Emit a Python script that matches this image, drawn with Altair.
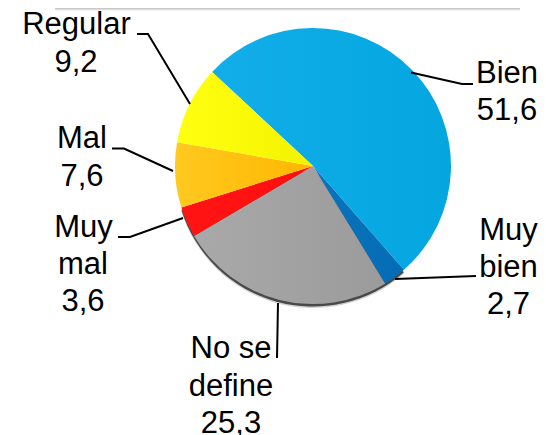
import altair as alt
import pandas as pd
import math

categories = ["Bien", "Muy bien", "No se define", "Muy mal", "Mal", "Regular"]
values = [51.6, 2.7, 25.3, 3.6, 7.6, 9.2]
colors = [
    ("#12AEEA", "#04A6E0"),
    ("#0874BE", "#056CB4"),
    ("#A9A9A9", "#9B9B9B"),
    ("#FF1414", "#FF0F0F"),
    ("#FFC91F", "#FFB700"),
    ("#FFFF10", "#F3F300"),
]
label_lines = [
    ("Regular", 76.5, 34), ("9,2", 76, 72),
    ("Bien", 507, 83), ("51,6", 507, 120),
    ("Mal", 82, 148), ("7,6", 82, 186),
    ("Muy", 83.5, 237), ("mal", 83, 274), ("3,6", 83, 311),
    ("Muy", 508.5, 240), ("bien", 508.5, 277), ("2,7", 508.5, 314),
    ("No se", 231, 358), ("define", 231, 396), ("25,3", 231, 433),
]
leaders = {
    "Regular": [(137, 34), (148, 34), (190, 104)],
    "Bien": [(411, 72.5), (462, 84), (473, 84)],
    "Mal": [(112, 148.5), (124, 148.5), (173, 171)],
    "Muy mal": [(118, 237), (130, 237), (183, 218)],
    "Muy bien": [(395, 279), (476, 276)],
    "No se define": [(278, 303), (277, 358)],
}
band_x = (55, 520)
band_y = (8, 11)

W, H = 530, 427
CX, CY, R = 305, 158, 138
START = math.radians(-47)

theta_scale = alt.Scale(domain=[0, 100], range=[START, START + 2 * math.pi])
px_x = alt.Scale(domain=[8, 538], range=[0, W])
px_y = alt.Scale(domain=[8, 435], range=[0, H])

starts, ends, total = [], [], 0.0
for v in values:
    starts.append(total)
    total += v
    ends.append(total)


def wedge(start, end, fill, cy=CY, r=R, opacity=1.0):
    d = pd.DataFrame({"start": [start], "end": [end]})
    return alt.Chart(d).mark_arc(fill=fill, outerRadius=r, opacity=opacity).encode(
        theta=alt.Theta("start:Q", scale=theta_scale),
        theta2="end:Q",
        x=alt.value(CX),
        y=alt.value(cy),
    )


def linear(c1, c2, x2=1, y2=0):
    return alt.LinearGradient(
        gradient="linear", x1=0, x2=x2, y1=0, y2=y2,
        stops=[alt.GradientStop(color=c1, offset=0), alt.GradientStop(color=c2, offset=1)],
    )


layers = []
band = pd.DataFrame({"x": [band_x[0]], "x2": [band_x[1]], "y": [band_y[0]], "y2": [band_y[1]]})
layers.append(
    alt.Chart(band).mark_rect(fill=linear("#BDBDBD", "#FFFFFF", 0, 1)).encode(
        x=alt.X("x:Q", scale=px_x, axis=None), x2="x2:Q",
        y=alt.Y("y:Q", scale=px_y, axis=None), y2="y2:Q",
    )
)

# soft shadow under the lower rim
shadow_start, shadow_end = starts[1], ends[3]
layers.append(wedge(shadow_start, shadow_end, "#000000", CY + 4, R, 0.18))
layers.append(wedge(shadow_start, shadow_end, "#000000", CY + 2.5, R, 0.65))

for s, e, (c1, c2) in zip(starts, ends, colors):
    layers.append(wedge(s, e, linear(c1, c2)))

rows = []
for name, pts in leaders.items():
    for i, (x, y) in enumerate(pts):
        rows.append({"name": name, "i": i, "x": x, "y": y})
layers.append(
    alt.Chart(pd.DataFrame(rows)).mark_line(color="#000000", strokeWidth=2).encode(
        x=alt.X("x:Q", scale=px_x, axis=None),
        y=alt.Y("y:Q", scale=px_y, axis=None),
        detail="name:N",
        order="i:Q",
    )
)

text_df = pd.DataFrame(label_lines, columns=["t", "x", "y"])
layers.append(
    alt.Chart(text_df).mark_text(
        font="Liberation Sans", fontSize=31, color="#000000", align="center", baseline="alphabetic"
    ).encode(
        x=alt.X("x:Q", scale=px_x, axis=None),
        y=alt.Y("y:Q", scale=px_y, axis=None),
        text="t:N",
    )
)

chart = alt.layer(*layers).properties(
    width=W, height=H, padding=0, autosize=alt.AutoSizeParams(type="none"),
).configure_view(stroke=None)

chart.save("out.html", embed_options={"renderer": "svg", "actions": False})
